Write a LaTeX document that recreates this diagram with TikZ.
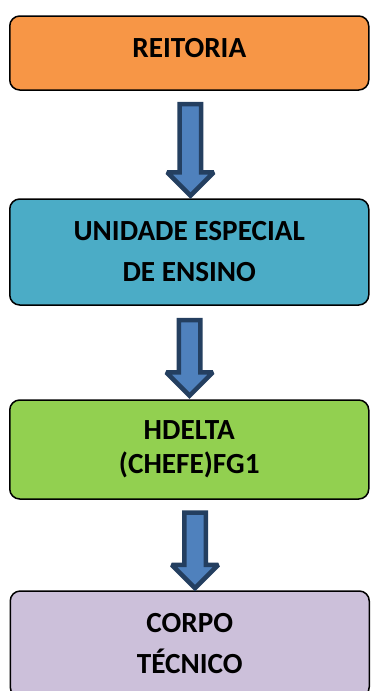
\documentclass[tikz,border=0pt]{standalone}
\usepackage{fontspec}
\setmainfont{Carlito}
\usetikzlibrary{shapes.arrows}

\definecolor{laranja}{HTML}{F79646}
\definecolor{azulclaro}{HTML}{4BACC6}
\definecolor{verde}{HTML}{92D050}
\definecolor{lilas}{HTML}{CCC0DA}
\definecolor{setaazul}{HTML}{4F81BD}
\definecolor{setaborda}{HTML}{243F60}

\begin{document}
\begin{tikzpicture}[x=1pt, y=-1pt,
    caixa/.style={draw=black, line width=1.5pt, rounded corners=10pt,
        minimum width=359pt, inner sep=0pt, align=center,
        font=\bfseries\fontsize{29.2}{41}\selectfont},
    seta/.style={single arrow, draw=setaborda, fill=setaazul,
        line width=4.5pt, miter limit=1.5, rotate=-90, inner sep=0pt,
        text height=8.5pt, text depth=8.5pt, text width=0pt,
        single arrow head extend=12.5pt, single arrow head indent=0pt}]
    \useasboundingbox (0,0) rectangle (370,691);
    \clip (0,0) rectangle (370,691);
    % caixas
    \node [caixa, fill=laranja, minimum height=74pt, text depth=10pt]
        (reitoria) at (189.25,53) {REITORIA};
    \node [caixa, fill=azulclaro, minimum height=106pt]
        (ensino) at (189.25,252) {UNIDADE ESPECIAL\\DE ENSINO};
    \node [caixa, fill=verde, minimum height=99pt,
        font=\bfseries\fontsize{29.2}{34}\selectfont]
        (hdelta) at (189.25,449.5) {HDELTA\\(CHEFE)FG1};
    \node [caixa, fill=lilas, minimum height=106pt]
        (corpo) at (189.75,644) {CORPO\\TÉCNICO};
    % setas
    \path ([xshift=1.2pt]reitoria.south) -- ([xshift=1.2pt]ensino.north)
        node [seta, midway, minimum height=91.5pt] (seta1) {};
    \path ([xshift=0.3pt]ensino.south) -- ([xshift=0.3pt]hdelta.north)
        node [seta, midway, minimum height=75.5pt] (seta2) {};
    \path ([xshift=5.5pt]hdelta.south) -- ([xshift=5.5pt]corpo.north)
        node [seta, midway, minimum height=75.5pt] (seta3) {};
\end{tikzpicture}
\end{document}
